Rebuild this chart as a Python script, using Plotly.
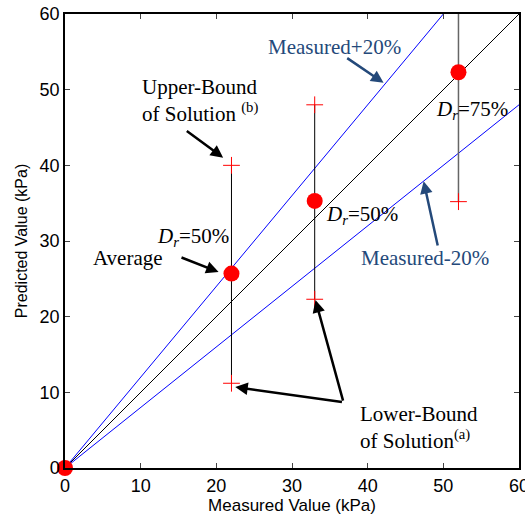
import plotly.graph_objects as go

# Data
measured = [0, 22, 33, 52]
predicted_avg = [0, 25.7, 35.3, 52.3]
bound_x = [22, 33, 52]
lower_bound = [11.2, 22.3, 35.2]
upper_bound = [40.0, 48.0, 62.0]
line_x = [0, 60]
line_equal = [0, 60]
line_plus20 = [0, 72]
line_minus20 = [0, 48]
ticks = [0, 10, 20, 30, 40, 50, 60]

SERIF = "Liberation Serif, Times New Roman, serif"
SANS = "Liberation Sans, Arial, sans-serif"
DARKBLUE = "#24497a"

fig = go.Figure()

fig.add_trace(go.Scatter(x=line_x, y=line_plus20, mode="lines",
                         line=dict(color="#0000ff", width=1), showlegend=False))
fig.add_trace(go.Scatter(x=line_x, y=line_minus20, mode="lines",
                         line=dict(color="#0000ff", width=1), showlegend=False))
fig.add_trace(go.Scatter(x=line_x, y=line_equal, mode="lines",
                         line=dict(color="black", width=1), showlegend=False))

# vertical bound lines
for i, (bx, lo, hi) in enumerate(zip(bound_x, lower_bound, upper_bound)):
    col = "#666666" if i == 2 else "black"
    wid = 1.5 if i == 2 else 1
    fig.add_trace(go.Scatter(x=[bx, bx], y=[lo, hi], mode="lines",
                             line=dict(color=col, width=wid), showlegend=False))

fig.add_trace(go.Scatter(x=bound_x + bound_x, y=lower_bound + upper_bound, mode="markers",
                         marker=dict(symbol="cross-thin", size=12,
                                     line=dict(color="red", width=1)),
                         showlegend=False))

fig.add_trace(go.Scatter(x=measured, y=predicted_avg, mode="markers",
                         marker=dict(symbol="circle", size=16, color="red"),
                         cliponaxis=False, showlegend=False))

def txt(x, y, text, color="black", size=21, xanchor="left", align="left"):
    fig.add_annotation(x=x, y=y, xref="x", yref="y", text=text, showarrow=False,
                       xanchor=xanchor, yanchor="middle", align=align,
                       font=dict(family=SERIF, size=size, color=color))

def arrow(x0, y0, x1, y1, color="black", width=2.5, head=True):
    fig.add_annotation(x=x1, y=y1, ax=x0, ay=y0, xref="x", yref="y", axref="x", ayref="y",
                       text="", showarrow=True, arrowhead=2 if head else 0,
                       arrowsize=1, arrowwidth=width, arrowcolor=color, standoff=0)

txt(35.6, 55.6, "Measured+20%", color=DARKBLUE, xanchor="center")
arrow(37.1, 54.3, 42.1, 50.9, color=DARKBLUE)

txt(9.9, 48.6, "Upper-Bound<br>of Solution <sup>(b)</sup>")
arrow(15.9, 44.7, 20.9, 41.0)

txt(48.7, 47.3, "<i>D<sub>r</sub></i>=75%")
txt(34.2, 33.4, "<i>D<sub>r</sub></i>=50%")
txt(11.9, 30.5, "<i>D<sub>r</sub></i>=50%")

txt(3.4, 27.75, "Average")
arrow(15.2, 27.9, 20.3, 25.9)

txt(38.8, 27.75, "Measured-20%", color=DARKBLUE)
arrow(49.3, 29.2, 47.4, 37.9, color=DARKBLUE)

txt(38.7, 5.3, "Lower-Bound<br>of Solution<sup>(a)</sup>")
arrow(36.8, 8.7, 33.1, 22.2)
arrow(36.8, 8.7, 22.5, 10.7)

# last x tick label (partly cut by the page edge, as in the reference)
fig.add_annotation(x=ticks[-1], y=0, xref="x", yref="paper", text=str(ticks[-1]),
                   showarrow=False, xanchor="center", yanchor="top", yshift=-6,
                   font=dict(family=SANS, size=18, color="black"))

fig.update_layout(
    width=525, height=520,
    margin=dict(l=65, r=6, t=14, b=52),
    plot_bgcolor="white", paper_bgcolor="white",
    font=dict(family=SANS, size=18, color="black"),
)
fig.update_xaxes(range=[0, 60], tickvals=ticks, ticks="inside", ticklen=5,
                 showgrid=False, zeroline=False, showline=True, linecolor="black",
                 linewidth=2, mirror="ticks", automargin=False,
                 title=dict(text="Measured Value (kPa)", font=dict(size=17), standoff=2))
fig.update_yaxes(range=[0, 60], tickvals=ticks, ticks="inside", ticklen=5,
                 showgrid=False, zeroline=False, showline=True, linecolor="black",
                 linewidth=1.5, mirror="ticks", automargin=False,
                 title=dict(text="Predicted Value (kPa)", font=dict(size=16), standoff=8))

fig.write_html("out.html")
